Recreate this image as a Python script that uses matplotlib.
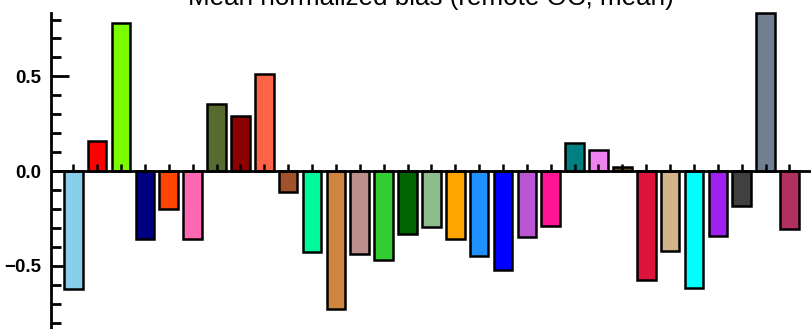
import matplotlib
matplotlib.use("Agg")
import matplotlib.pyplot as plt
from matplotlib.ticker import MultipleLocator

title = "Mean normalized bias (remote OC, mean)"

values = [
    -0.621, 0.158, 0.783, -0.357, -0.199, -0.357, 0.354, 0.289, 0.514, -0.111,
    -0.429, -0.729, -0.438, -0.470, -0.334, -0.297, -0.361, -0.447, -0.524, -0.347,
    -0.289, 0.148, 0.111, 0.020, -0.576, -0.422, -0.616, -0.342, -0.183, 0.836,
    -0.306,
]

colors = [
    "#87CEEB", "#FF0000", "#7CFC00", "#000080", "#FF4500", "#FF69B4", "#556B2F",
    "#8B0000", "#FF6347", "#A0522D", "#00FA9A", "#CD853F", "#BC8F8F", "#32CD32",
    "#006400", "#8FBC8F", "#FFA500", "#1E90FF", "#0000FF", "#BA55D3", "#FF1493",
    "#008080", "#EE82EE", "#5E4A14", "#DC143C", "#D2B48C", "#00FFFF", "#A020F0",
    "#404040", "#708090", "#B03060",
]

y_ticks = [-0.5, 0.0, 0.5]
y_tick_labels = ["\u22120.5", "0.0", "0.5"]

fig = plt.figure(figsize=(8.12, 3.29), dpi=100)
ax = fig.add_axes([0.0624, -0.038, 0.9377, 0.9994])

x = list(range(len(values)))
ax.bar(x, values, width=0.78, color=colors, edgecolor="black",
       linewidth=1.8, clip_on=False, zorder=2)

ax.set_xlim(-0.946, len(values) - 1 + 0.946)
ax.set_ylim(-0.9, 0.836)

# zero line with small upward ticks at each bar
ax.axhline(0, color="black", lw=2.0, zorder=3)
for xi in x:
    ax.plot([xi, xi], [0, 0.035], color="black", lw=1.8, zorder=4,
            solid_capstyle="butt")

for s in ("top", "right", "bottom"):
    ax.spines[s].set_visible(False)
ax.spines["left"].set_linewidth(2.0)

ax.set_xticks([])
ax.set_yticks(y_ticks)
ax.set_yticklabels(y_tick_labels, fontfamily="Liberation Sans",
                   fontweight="bold", fontsize=13.5)
ax.yaxis.set_minor_locator(MultipleLocator(0.1))
ax.tick_params(axis="y", which="major", direction="in", length=13, width=2.0,
               pad=7)
ax.tick_params(axis="y", which="minor", direction="in", length=7, width=2.0)

fig.text(431 / 812, 1 - 4.5 / 329, title, ha="center", va="baseline",
         fontfamily="Liberation Sans", fontsize=18.7)

fig.savefig("out.png", dpi=100)
